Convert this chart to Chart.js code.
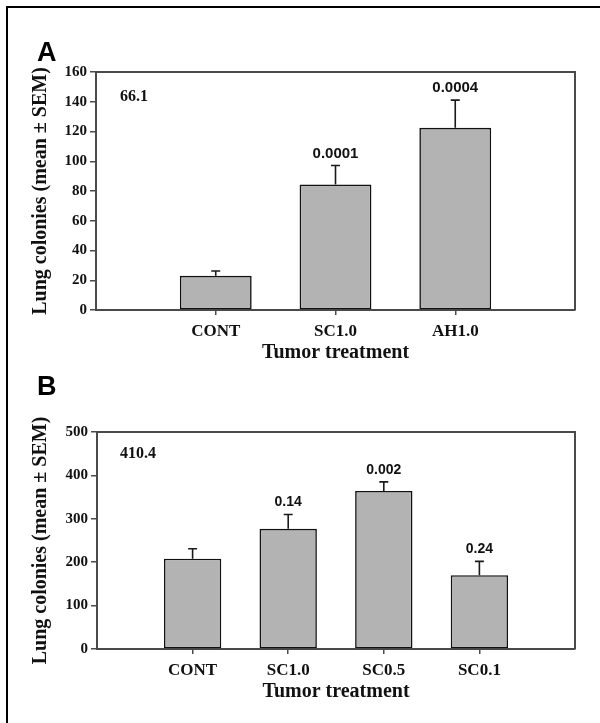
<!DOCTYPE html>
<html>
<head>
<meta charset="utf-8">
<script src="https://cdn.jsdelivr.net/npm/chart.js@4.4.1/dist/chart.umd.min.js"></script>
<style>
    html, body { margin: 0; padding: 0; background: #fff; }
    #page { position: relative; width: 600px; height: 723px; overflow: hidden; background: #fff; }
    #frame { position: absolute; left: 6px; top: 6px; width: 620px; height: 740px; border: 2px solid #000; box-sizing: border-box; }
    #chartA { position: absolute; left: 0; top: 0; }
    #chartB { position: absolute; left: 0; top: 368px; }
</style>
</head>
<body>
<div id="page">
    <div id="frame"></div>
    <canvas id="chartA" width="600" height="368"></canvas>
    <canvas id="chartB" width="600" height="355"></canvas>
</div>
<script>
// Panel A
const CATEGORIES_A = ["CONT", "SC1.0", "AH1.0"];
const MEANS_A = [23, 84.3, 122.5];
const SEMS_A = [3.2, 12.8, 18.6];
const P_VALUES_A = ["", "0.0001", "0.0004"];
const Y_MAX_A = 160;
const Y_STEP_A = 20;
const NOTE_A = "66.1";

// Panel B
const CATEGORIES_B = ["CONT", "SC1.0", "SC0.5", "SC0.1"];
const MEANS_B = [208, 277, 364, 170];
const SEMS_B = [23, 33, 21, 32];
const P_VALUES_B = ["", "0.14", "0.002", "0.24"];
const Y_MAX_B = 500;
const Y_STEP_B = 100;
const NOTE_B = "410.4";

const Y_TITLE = "Lung colonies (mean \u00b1 SEM)";
const X_TITLE = "Tumor treatment";

const SERIF = "'Liberation Serif', 'Times New Roman', serif";
const SANS = "'Liberation Sans', Arial, sans-serif";
const AXIS_COLOR = "#4a4a4a";
const TEXT_COLOR = "#111111";

// pad categories with an empty slot on each side, like the original plot
const padded = (arr, fill) => [fill, ...arr, fill];

const errorBarPlugin = {
    id: "errorBars",
    afterDatasetsDraw(chart, args, opts) {
        const ctx = chart.ctx;
        const yScale = chart.scales.y;
        const meta = chart.getDatasetMeta(0);
        const means = chart.data.datasets[0].data;
        ctx.save();
        meta.data.forEach((bar, i) => {
            const mean = means[i];
            if (mean == null) return;
            const yTop = yScale.getPixelForValue(mean + opts.sems[i]);
            ctx.strokeStyle = "#1a1a1a";
            ctx.lineWidth = 1.6;
            ctx.beginPath();
            ctx.moveTo(bar.x, bar.y);
            ctx.lineTo(bar.x, yTop);
            ctx.moveTo(bar.x - 4.5, yTop);
            ctx.lineTo(bar.x + 4.5, yTop);
            ctx.stroke();
            const label = opts.pLabels[i];
            if (label) {
                ctx.fillStyle = TEXT_COLOR;
                ctx.font = opts.pFont;
                ctx.textAlign = "center";
                ctx.textBaseline = "alphabetic";
                ctx.fillText(label, bar.x, yTop - 8);
            }
        });
        ctx.restore();
    },
};

const panelTextPlugin = {
    id: "panelText",
    afterDraw(chart, args, opts) {
        const ctx = chart.ctx;
        const area = chart.chartArea;
        ctx.save();
        // top and right sides of the plot box
        ctx.strokeStyle = AXIS_COLOR;
        ctx.lineWidth = 2;
        ctx.beginPath();
        ctx.moveTo(area.left, area.top);
        ctx.lineTo(area.right, area.top);
        ctx.lineTo(area.right, area.bottom);
        ctx.stroke();

        ctx.fillStyle = "#000";
        ctx.textAlign = "left";
        ctx.textBaseline = "alphabetic";
        ctx.font = "bold 27px " + SANS;
        ctx.fillText(opts.letter, opts.letterX, opts.letterY);

        ctx.fillStyle = TEXT_COLOR;
        ctx.font = "bold 16px " + SERIF;
        ctx.fillText(opts.note, opts.noteX, opts.noteY);
        ctx.restore();
    },
};

function buildChart(canvasId, cfg) {
    const labels = padded(cfg.categories, "");
    const ctx = document.getElementById(canvasId).getContext("2d");
    return new Chart(ctx, {
        type: "bar",
        data: {
            labels: labels,
            datasets: [{
                data: padded(cfg.means, null),
                backgroundColor: "#b3b3b3",
                borderColor: "#111111",
                borderWidth: 1.6,
                borderSkipped: false,
                barPercentage: 0.6,
                categoryPercentage: 1.0,
            }],
        },
        options: {
            responsive: false,
            animation: false,
            layout: {
                padding: { top: cfg.areaTop, right: 25, left: 0, bottom: 0 },
            },
            scales: {
                x: {
                    offset: false,
                    grid: {
                        offset: false,
                        drawOnChartArea: false,
                        tickLength: 5,
                        lineWidth: 1.5,
                        color: (c) => (labels[c.index] ? AXIS_COLOR : "rgba(0,0,0,0)"),
                    },
                    border: { color: AXIS_COLOR, width: 2 },
                    ticks: {
                        color: TEXT_COLOR,
                        padding: 6,
                        maxRotation: 0,
                        autoSkip: false,
                        font: { family: SERIF, size: 17, weight: "bold" },
                    },
                    title: {
                        display: true,
                        text: X_TITLE,
                        color: TEXT_COLOR,
                        padding: { top: 0, bottom: cfg.xTitleBottom },
                        font: { family: SERIF, size: 20, weight: "bold" },
                    },
                    afterFit: (scale) => { scale.height = cfg.xAxisHeight; },
                },
                y: {
                    min: 0,
                    max: cfg.yMax,
                    grid: {
                        drawOnChartArea: false,
                        tickLength: 6,
                        lineWidth: 1.5,
                        color: AXIS_COLOR,
                    },
                    border: { color: AXIS_COLOR, width: 2 },
                    ticks: {
                        stepSize: cfg.yStep,
                        color: TEXT_COLOR,
                        padding: 3,
                        font: { family: SERIF, size: 15, weight: "bold" },
                    },
                    title: {
                        display: true,
                        text: Y_TITLE,
                        color: TEXT_COLOR,
                        padding: { top: 29, bottom: 0 },
                        font: { family: SERIF, size: 20, weight: "bold" },
                    },
                    afterFit: (scale) => { scale.width = cfg.yAxisWidth; },
                },
            },
            plugins: {
                legend: { display: false },
                tooltip: { enabled: false },
                errorBars: {
                    sems: padded(cfg.sems, null),
                    pLabels: padded(cfg.pValues, ""),
                    pFont: cfg.pFont,
                },
                panelText: cfg.panelText,
            },
        },
        plugins: [errorBarPlugin, panelTextPlugin],
    });
}

buildChart("chartA", {
    categories: CATEGORIES_A,
    means: MEANS_A,
    sems: SEMS_A,
    pValues: P_VALUES_A,
    yMax: Y_MAX_A,
    yStep: Y_STEP_A,
    areaTop: 72,
    yAxisWidth: 96,
    xAxisHeight: 58,
    xTitleBottom: 3,
    pFont: "bold 15px " + SANS,
    panelText: { letter: "A", letterX: 37, letterY: 61, note: NOTE_A, noteX: 120, noteY: 100.5 },
});

buildChart("chartB", {
    categories: CATEGORIES_B,
    means: MEANS_B,
    sems: SEMS_B,
    pValues: P_VALUES_B,
    yMax: Y_MAX_B,
    yStep: Y_STEP_B,
    areaTop: 64,
    yAxisWidth: 97,
    xAxisHeight: 74,
    xTitleBottom: 19,
    pFont: "bold 14px " + SANS,
    panelText: { letter: "B", letterX: 37, letterY: 27, note: NOTE_B, noteX: 120, noteY: 90 },
});
</script>
</body>
</html>
